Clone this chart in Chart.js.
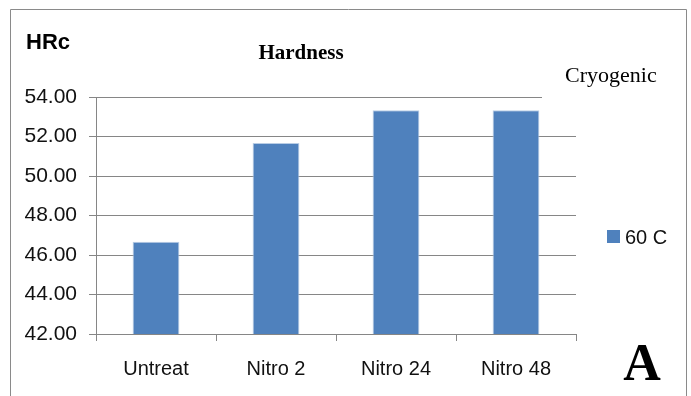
<!DOCTYPE html>
<html>
<head>
<meta charset="utf-8">
<script src="https://cdn.jsdelivr.net/npm/chart.js@4/dist/chart.umd.min.js"></script>
<style>
  html, body { margin: 0; padding: 0; background: #fff; }
  #wrap { width: 691px; height: 396px; position: relative; }
</style>
</head>
<body>
<div id="wrap"><canvas id="c" width="691" height="396"></canvas></div>
<script>
// Hardness (HRc) by treatment, cryogenic series
const categories = ['Untreat', 'Nitro 2', 'Nitro 24', 'Nitro 48'];
const seriesLabel = '60 C';
const hardness60C = [46.67, 51.67, 53.33, 53.33];
const yMin = 42, yMax = 54, yStep = 2;

const chartTitle = 'Hardness';
const yUnit = 'HRc';
const legendTitle = 'Cryogenic';
const panelTag = 'A';

const sansFont = '"Liberation Sans Narrow", "Liberation Sans", sans-serif';
const serifFont = '"Liberation Serif", "DejaVu Serif", serif';
const barColor = '#4f81bd';
const gridColor = '#868686';

const decorations = {
  id: 'decorations',
  beforeDraw(chart) {
    const ctx = chart.ctx;
    ctx.save();
    ctx.fillStyle = '#fff';
    ctx.fillRect(0, 0, chart.width, chart.height);
    // outer frame
    ctx.strokeStyle = '#8a8a8a';
    ctx.lineWidth = 1;
    ctx.beginPath();
    ctx.moveTo(10.5, 396);
    ctx.lineTo(10.5, 9.5);
    ctx.lineTo(686.5, 9.5);
    ctx.lineTo(686.5, 396);
    ctx.stroke();
    ctx.restore();
  },
  afterDraw(chart) {
    const ctx = chart.ctx;
    const ds = chart.data.datasets[0];
    ctx.save();
    ctx.fillStyle = '#000';
    ctx.textBaseline = 'alphabetic';
    // unit label
    ctx.font = 'bold 22px ' + sansFont;
    ctx.textAlign = 'left';
    ctx.fillText(yUnit, 26, 49);
    // title
    ctx.font = 'bold 21px ' + serifFont;
    ctx.textAlign = 'center';
    ctx.fillText(chartTitle, 301, 59);
    // legend heading, on a white box that overlaps the plot corner
    ctx.fillStyle = '#fff';
    ctx.fillRect(542, 60, 120, 39);
    ctx.font = '22px ' + serifFont;
    ctx.textAlign = 'left';
    ctx.fillStyle = '#000';
    ctx.fillText(legendTitle, 565, 82);
    // legend entry
    ctx.fillStyle = ds.backgroundColor;
    ctx.fillRect(607, 230, 13, 13);
    ctx.fillStyle = '#111';
    ctx.font = '20px ' + sansFont;
    ctx.fillText(ds.label, 625, 244);
    // panel tag
    ctx.fillStyle = '#000';
    ctx.font = 'bold 52px ' + serifFont;
    ctx.textAlign = 'center';
    ctx.fillText(panelTag, 642, 380);
    ctx.restore();
  }
};

new Chart(document.getElementById('c'), {
  type: 'bar',
  data: {
    labels: categories,
    datasets: [{
      label: seriesLabel,
      data: hardness60C,
      backgroundColor: barColor,
      borderColor: '#b9cde5',
      borderWidth: 1,
      categoryPercentage: 1,
      barPercentage: 0.39
    }]
  },
  options: {
    responsive: false,
    animation: false,
    devicePixelRatio: 1,
    layout: { padding: { left: 0, top: 97, right: 115, bottom: 0 } },
    plugins: { legend: { display: false }, title: { display: false }, tooltip: { enabled: false } },
    scales: {
      x: {
        offset: true,
        grid: { display: true, offset: true, drawOnChartArea: false, drawTicks: true, tickLength: 7, color: gridColor },
        border: { display: true, color: gridColor, width: 1 },
        ticks: { color: '#111', font: { family: sansFont, size: 20 }, padding: 16, maxRotation: 0 },
        afterFit(scale) { scale.height = 62; }
      },
      y: {
        min: yMin, max: yMax,
        grid: { color: gridColor, lineWidth: 1, drawTicks: true, tickLength: 7 },
        border: { display: true, color: gridColor, width: 1 },
        ticks: {
          stepSize: yStep,
          color: '#111',
          font: { family: sansFont, size: 21 },
          padding: 12,
          callback: v => Number(v).toFixed(2)
        },
        afterFit(scale) { scale.width = 96; }
      }
    }
  },
  plugins: [decorations]
});
</script>
</body>
</html>
